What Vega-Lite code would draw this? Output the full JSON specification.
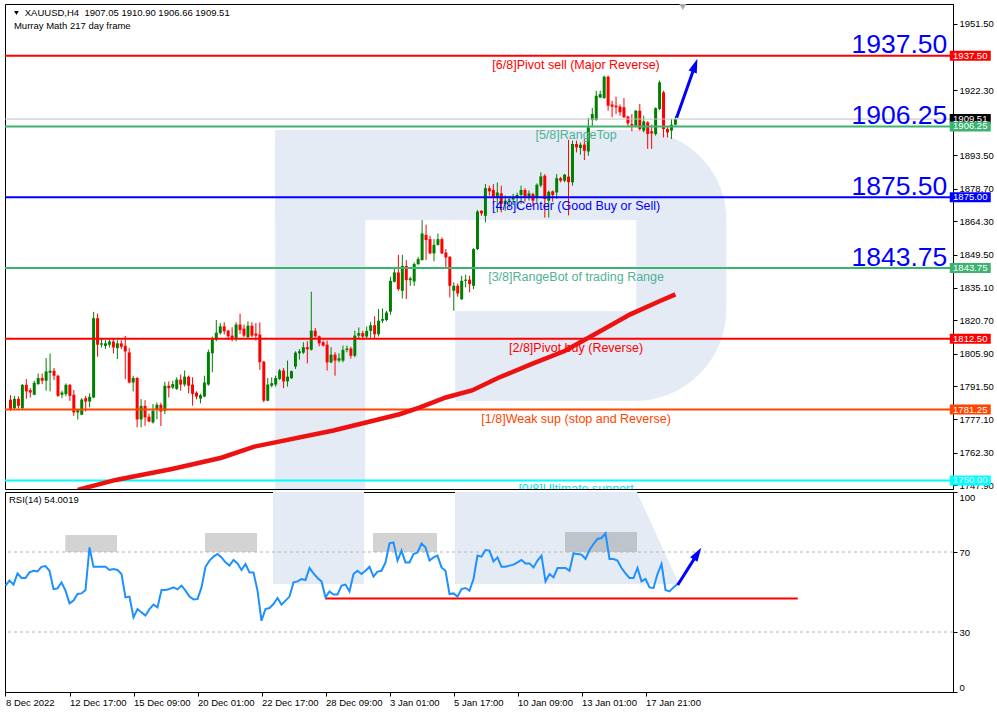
{
"$schema":"https://vega.github.io/schema/vega-lite/v6.json",
"background":"white",
"padding":{"left":3,"top":3,"right":0,"bottom":0},
"bounds":"flush",
"spacing":3,
"config":{"view":{"stroke":"#000000","strokeWidth":1,"fill":"#ffffff"},"axis":{"labelFont":"Liberation Sans","labelFontSize":9.5,"labelColor":"#000000","tickColor":"#000000","domainColor":"#000000","tickSize":4,"grid":false,"labelOverlap":false},"text":{"font":"Liberation Sans"}},
"datasets":{
"bars":[
{"i":0,"o":1785.6,"h":1787.6,"l":1780.7,"c":1781.5,"r":53.2},
{"i":1,"o":1781.9,"h":1787.3,"l":1781.5,"c":1786.0,"r":55.7},
{"i":2,"o":1786.0,"h":1787.1,"l":1781.9,"c":1782.9,"r":53.7},
{"i":3,"o":1781.9,"h":1792.5,"l":1781.3,"c":1792.2,"r":59.3},
{"i":4,"o":1792.2,"h":1794.7,"l":1786.0,"c":1789.3,"r":57.0},
{"i":5,"o":1789.8,"h":1790.7,"l":1786.6,"c":1788.8,"r":57.0},
{"i":6,"o":1787.8,"h":1794.0,"l":1787.6,"c":1793.1,"r":59.8},
{"i":7,"o":1792.5,"h":1797.2,"l":1792.2,"c":1795.2,"r":60.6},
{"i":8,"o":1795.2,"h":1797.2,"l":1792.5,"c":1794.0,"r":60.3},
{"i":9,"o":1794.0,"h":1804.0,"l":1789.6,"c":1798.1,"r":62.6},
{"i":10,"o":1797.5,"h":1806.0,"l":1789.3,"c":1798.4,"r":63.0},
{"i":11,"o":1798.4,"h":1799.6,"l":1794.3,"c":1796.2,"r":60.6},
{"i":12,"o":1796.2,"h":1796.6,"l":1786.9,"c":1787.3,"r":51.5},
{"i":13,"o":1787.8,"h":1789.6,"l":1786.3,"c":1788.8,"r":51.8},
{"i":14,"o":1788.1,"h":1792.8,"l":1787.1,"c":1792.2,"r":54.8},
{"i":15,"o":1792.2,"h":1792.5,"l":1785.1,"c":1787.3,"r":50.7},
{"i":16,"o":1787.8,"h":1789.9,"l":1778.5,"c":1780.0,"r":44.3},
{"i":17,"o":1780.0,"h":1781.5,"l":1776.9,"c":1781.0,"r":45.7},
{"i":18,"o":1779.0,"h":1786.3,"l":1778.8,"c":1785.7,"r":49.0},
{"i":19,"o":1786.3,"h":1787.3,"l":1780.4,"c":1784.8,"r":49.3},
{"i":20,"o":1784.8,"h":1788.4,"l":1782.2,"c":1786.9,"r":51.0},
{"i":21,"o":1786.6,"h":1824.4,"l":1786.3,"c":1821.6,"r":72.3},
{"i":22,"o":1821.6,"h":1823.7,"l":1804.6,"c":1809.9,"r":62.6},
{"i":23,"o":1809.9,"h":1812.8,"l":1808.7,"c":1810.5,"r":62.6},
{"i":24,"o":1809.4,"h":1811.9,"l":1808.0,"c":1810.5,"r":62.6},
{"i":25,"o":1809.9,"h":1812.8,"l":1808.7,"c":1811.3,"r":62.6},
{"i":26,"o":1811.3,"h":1812.8,"l":1806.0,"c":1808.7,"r":61.0},
{"i":27,"o":1808.4,"h":1811.9,"l":1803.5,"c":1810.5,"r":61.5},
{"i":28,"o":1810.5,"h":1811.9,"l":1808.0,"c":1809.0,"r":61.0},
{"i":29,"o":1809.4,"h":1813.8,"l":1794.7,"c":1806.9,"r":59.0},
{"i":30,"o":1806.5,"h":1808.4,"l":1792.8,"c":1793.2,"r":47.3},
{"i":31,"o":1793.2,"h":1796.2,"l":1789.3,"c":1795.2,"r":47.7},
{"i":32,"o":1795.2,"h":1795.6,"l":1773.4,"c":1776.9,"r":37.3},
{"i":33,"o":1776.9,"h":1785.9,"l":1773.4,"c":1782.9,"r":41.5},
{"i":34,"o":1782.9,"h":1785.4,"l":1774.1,"c":1777.8,"r":39.8},
{"i":35,"o":1778.1,"h":1779.5,"l":1775.6,"c":1776.0,"r":38.2},
{"i":36,"o":1775.6,"h":1783.7,"l":1775.1,"c":1780.7,"r":41.5},
{"i":37,"o":1781.5,"h":1784.4,"l":1777.0,"c":1783.4,"r":43.7},
{"i":38,"o":1783.4,"h":1784.3,"l":1774.0,"c":1780.4,"r":42.3},
{"i":39,"o":1780.7,"h":1793.5,"l":1779.3,"c":1791.8,"r":51.0},
{"i":40,"o":1791.8,"h":1793.7,"l":1786.6,"c":1790.7,"r":51.0},
{"i":41,"o":1791.0,"h":1794.0,"l":1790.3,"c":1792.5,"r":51.5},
{"i":42,"o":1790.4,"h":1795.5,"l":1789.9,"c":1794.5,"r":52.3},
{"i":43,"o":1794.5,"h":1796.7,"l":1789.6,"c":1792.3,"r":51.3},
{"i":44,"o":1792.3,"h":1798.5,"l":1791.4,"c":1795.8,"r":53.2},
{"i":45,"o":1795.8,"h":1796.2,"l":1788.4,"c":1791.8,"r":50.7},
{"i":46,"o":1792.3,"h":1795.5,"l":1783.0,"c":1788.2,"r":47.7},
{"i":47,"o":1788.7,"h":1789.3,"l":1785.8,"c":1787.0,"r":46.3},
{"i":48,"o":1786.1,"h":1788.2,"l":1784.0,"c":1787.6,"r":46.5},
{"i":49,"o":1787.0,"h":1796.2,"l":1786.7,"c":1793.2,"r":52.3},
{"i":50,"o":1792.3,"h":1807.7,"l":1791.8,"c":1806.6,"r":62.6},
{"i":51,"o":1806.1,"h":1813.5,"l":1797.7,"c":1812.4,"r":65.7},
{"i":52,"o":1812.0,"h":1820.8,"l":1811.4,"c":1815.2,"r":67.7},
{"i":53,"o":1815.0,"h":1819.4,"l":1814.4,"c":1818.0,"r":69.0},
{"i":54,"o":1818.0,"h":1819.8,"l":1814.4,"c":1815.8,"r":67.3},
{"i":55,"o":1816.1,"h":1816.4,"l":1812.0,"c":1813.6,"r":64.8},
{"i":56,"o":1813.9,"h":1817.6,"l":1811.4,"c":1812.9,"r":63.2},
{"i":57,"o":1812.9,"h":1819.8,"l":1811.4,"c":1818.8,"r":66.0},
{"i":58,"o":1818.8,"h":1823.6,"l":1814.6,"c":1816.4,"r":64.3},
{"i":59,"o":1817.0,"h":1818.8,"l":1813.2,"c":1813.9,"r":61.0},
{"i":60,"o":1813.2,"h":1820.2,"l":1812.9,"c":1818.3,"r":64.0},
{"i":61,"o":1818.3,"h":1819.8,"l":1813.2,"c":1813.9,"r":59.8},
{"i":62,"o":1814.8,"h":1819.4,"l":1811.7,"c":1813.9,"r":59.8},
{"i":63,"o":1814.4,"h":1819.7,"l":1798.8,"c":1802.1,"r":50.7},
{"i":64,"o":1802.4,"h":1802.8,"l":1784.5,"c":1785.2,"r":35.6},
{"i":65,"o":1785.2,"h":1795.2,"l":1784.9,"c":1792.3,"r":41.5},
{"i":66,"o":1791.8,"h":1795.5,"l":1791.1,"c":1792.9,"r":42.0},
{"i":67,"o":1792.3,"h":1796.2,"l":1791.4,"c":1795.2,"r":44.0},
{"i":68,"o":1794.8,"h":1799.2,"l":1794.3,"c":1798.5,"r":47.0},
{"i":69,"o":1798.5,"h":1799.6,"l":1790.7,"c":1793.7,"r":43.7},
{"i":70,"o":1793.7,"h":1802.9,"l":1791.4,"c":1795.8,"r":45.7},
{"i":71,"o":1795.1,"h":1798.5,"l":1794.8,"c":1798.2,"r":47.7},
{"i":72,"o":1800.2,"h":1807.0,"l":1799.2,"c":1806.4,"r":54.8},
{"i":73,"o":1806.1,"h":1808.0,"l":1803.3,"c":1807.0,"r":55.3},
{"i":74,"o":1806.4,"h":1811.0,"l":1805.8,"c":1808.8,"r":56.5},
{"i":75,"o":1808.8,"h":1811.4,"l":1801.7,"c":1807.9,"r":56.0},
{"i":76,"o":1807.7,"h":1833.3,"l":1807.3,"c":1816.1,"r":62.0},
{"i":77,"o":1816.1,"h":1817.3,"l":1812.9,"c":1813.6,"r":59.3},
{"i":78,"o":1813.6,"h":1813.9,"l":1809.2,"c":1810.5,"r":57.0},
{"i":79,"o":1811.0,"h":1811.7,"l":1809.1,"c":1809.5,"r":55.3},
{"i":80,"o":1809.9,"h":1811.7,"l":1798.5,"c":1802.1,"r":47.3},
{"i":81,"o":1802.1,"h":1808.8,"l":1801.7,"c":1805.5,"r":50.3},
{"i":82,"o":1805.5,"h":1806.6,"l":1796.2,"c":1802.9,"r":48.7},
{"i":83,"o":1802.9,"h":1806.1,"l":1802.1,"c":1803.9,"r":48.7},
{"i":84,"o":1802.9,"h":1809.5,"l":1802.1,"c":1807.6,"r":53.2},
{"i":85,"o":1807.6,"h":1809.5,"l":1806.5,"c":1808.2,"r":53.7},
{"i":86,"o":1808.2,"h":1809.0,"l":1803.8,"c":1805.0,"r":50.3},
{"i":87,"o":1805.0,"h":1816.1,"l":1804.3,"c":1813.9,"r":59.0},
{"i":88,"o":1813.9,"h":1817.5,"l":1812.5,"c":1815.0,"r":60.6},
{"i":89,"o":1815.0,"h":1816.0,"l":1812.0,"c":1813.5,"r":59.0},
{"i":90,"o":1813.5,"h":1818.0,"l":1812.8,"c":1816.0,"r":60.6},
{"i":91,"o":1816.0,"h":1820.0,"l":1813.0,"c":1818.5,"r":62.6},
{"i":92,"o":1818.5,"h":1822.4,"l":1812.5,"c":1814.5,"r":57.7},
{"i":93,"o":1814.5,"h":1825.6,"l":1813.5,"c":1820.5,"r":60.2},
{"i":94,"o":1820.5,"h":1825.9,"l":1819.5,"c":1821.2,"r":60.6},
{"i":95,"o":1820.8,"h":1824.8,"l":1820.2,"c":1824.1,"r":64.8},
{"i":96,"o":1824.5,"h":1839.9,"l":1823.1,"c":1838.1,"r":74.3},
{"i":97,"o":1837.7,"h":1844.0,"l":1837.4,"c":1841.8,"r":74.8},
{"i":98,"o":1841.8,"h":1849.6,"l":1833.7,"c":1834.4,"r":65.7},
{"i":99,"o":1833.7,"h":1849.6,"l":1830.3,"c":1844.7,"r":70.7},
{"i":100,"o":1844.7,"h":1847.3,"l":1830.0,"c":1838.4,"r":64.8},
{"i":101,"o":1838.4,"h":1839.9,"l":1835.9,"c":1839.2,"r":64.8},
{"i":102,"o":1837.8,"h":1846.2,"l":1835.9,"c":1845.5,"r":69.0},
{"i":103,"o":1845.5,"h":1848.7,"l":1845.0,"c":1847.7,"r":69.8},
{"i":104,"o":1847.3,"h":1864.9,"l":1847.0,"c":1859.0,"r":74.3},
{"i":105,"o":1858.4,"h":1862.9,"l":1847.3,"c":1856.1,"r":72.3},
{"i":106,"o":1856.5,"h":1858.0,"l":1849.9,"c":1850.2,"r":65.7},
{"i":107,"o":1850.2,"h":1856.5,"l":1846.7,"c":1854.0,"r":67.3},
{"i":108,"o":1854.0,"h":1859.0,"l":1853.6,"c":1856.5,"r":68.2},
{"i":109,"o":1856.5,"h":1857.3,"l":1849.9,"c":1850.2,"r":62.3},
{"i":110,"o":1850.6,"h":1852.1,"l":1844.0,"c":1848.4,"r":60.6},
{"i":111,"o":1848.7,"h":1849.0,"l":1830.8,"c":1835.9,"r":49.0},
{"i":112,"o":1833.7,"h":1837.4,"l":1824.9,"c":1835.9,"r":49.3},
{"i":113,"o":1835.9,"h":1836.9,"l":1831.1,"c":1832.5,"r":47.7},
{"i":114,"o":1830.0,"h":1840.3,"l":1829.6,"c":1838.1,"r":51.5},
{"i":115,"o":1838.1,"h":1840.8,"l":1835.2,"c":1838.6,"r":52.0},
{"i":116,"o":1838.6,"h":1840.3,"l":1833.0,"c":1836.7,"r":50.7},
{"i":117,"o":1835.9,"h":1852.5,"l":1834.4,"c":1852.1,"r":56.5},
{"i":118,"o":1852.1,"h":1869.3,"l":1851.7,"c":1868.7,"r":68.2},
{"i":119,"o":1869.0,"h":1869.3,"l":1866.8,"c":1867.9,"r":67.7},
{"i":120,"o":1866.8,"h":1880.8,"l":1863.9,"c":1879.0,"r":71.0},
{"i":121,"o":1879.0,"h":1880.1,"l":1875.7,"c":1877.6,"r":70.7},
{"i":122,"o":1878.2,"h":1880.8,"l":1872.0,"c":1875.2,"r":65.3},
{"i":123,"o":1874.9,"h":1881.5,"l":1868.3,"c":1877.1,"r":67.3},
{"i":124,"o":1876.7,"h":1880.1,"l":1868.3,"c":1872.0,"r":62.6},
{"i":125,"o":1872.0,"h":1875.8,"l":1869.0,"c":1873.5,"r":62.6},
{"i":126,"o":1873.5,"h":1875.5,"l":1870.5,"c":1874.0,"r":63.2},
{"i":127,"o":1874.0,"h":1876.5,"l":1871.5,"c":1874.8,"r":63.7},
{"i":128,"o":1874.8,"h":1877.0,"l":1870.0,"c":1876.0,"r":64.8},
{"i":129,"o":1876.0,"h":1880.1,"l":1872.0,"c":1878.2,"r":66.0},
{"i":130,"o":1878.2,"h":1879.0,"l":1873.0,"c":1874.9,"r":64.3},
{"i":131,"o":1874.9,"h":1878.0,"l":1873.5,"c":1876.7,"r":64.3},
{"i":132,"o":1876.4,"h":1877.0,"l":1871.0,"c":1873.5,"r":62.3},
{"i":133,"o":1874.9,"h":1881.1,"l":1872.5,"c":1880.5,"r":65.7},
{"i":134,"o":1880.2,"h":1886.0,"l":1879.4,"c":1884.2,"r":68.2},
{"i":135,"o":1884.5,"h":1885.2,"l":1866.0,"c":1874.2,"r":55.3},
{"i":136,"o":1873.5,"h":1878.0,"l":1866.0,"c":1877.4,"r":59.0},
{"i":137,"o":1877.6,"h":1878.0,"l":1873.0,"c":1875.9,"r":57.3},
{"i":138,"o":1877.1,"h":1885.2,"l":1874.2,"c":1883.4,"r":62.0},
{"i":139,"o":1883.4,"h":1884.0,"l":1881.6,"c":1882.3,"r":62.0},
{"i":140,"o":1882.3,"h":1885.2,"l":1881.6,"c":1885.0,"r":62.0},
{"i":141,"o":1884.1,"h":1900.3,"l":1867.0,"c":1881.6,"r":60.6},
{"i":142,"o":1881.6,"h":1900.0,"l":1880.1,"c":1898.5,"r":69.3},
{"i":143,"o":1898.5,"h":1900.0,"l":1894.8,"c":1897.0,"r":69.0},
{"i":144,"o":1896.7,"h":1899.2,"l":1893.8,"c":1898.2,"r":68.7},
{"i":145,"o":1898.2,"h":1900.7,"l":1891.4,"c":1895.5,"r":66.5},
{"i":146,"o":1895.2,"h":1910.0,"l":1893.3,"c":1905.9,"r":71.0},
{"i":147,"o":1909.1,"h":1914.4,"l":1905.9,"c":1911.7,"r":74.0},
{"i":148,"o":1909.1,"h":1922.0,"l":1908.8,"c":1919.8,"r":76.5},
{"i":149,"o":1919.0,"h":1922.0,"l":1918.8,"c":1920.5,"r":77.0},
{"i":150,"o":1918.8,"h":1928.7,"l":1918.4,"c":1928.2,"r":79.3},
{"i":151,"o":1928.2,"h":1928.7,"l":1913.2,"c":1915.4,"r":66.5},
{"i":152,"o":1915.9,"h":1917.6,"l":1910.3,"c":1915.0,"r":66.5},
{"i":153,"o":1915.4,"h":1919.4,"l":1911.7,"c":1914.7,"r":65.7},
{"i":154,"o":1915.0,"h":1915.9,"l":1911.0,"c":1912.5,"r":62.0},
{"i":155,"o":1914.7,"h":1918.8,"l":1910.0,"c":1910.3,"r":59.3},
{"i":156,"o":1910.6,"h":1911.0,"l":1905.9,"c":1907.6,"r":57.0},
{"i":157,"o":1907.3,"h":1911.7,"l":1904.1,"c":1906.6,"r":57.0},
{"i":158,"o":1906.6,"h":1913.5,"l":1905.9,"c":1913.2,"r":62.0},
{"i":159,"o":1913.2,"h":1916.2,"l":1904.4,"c":1905.1,"r":55.3},
{"i":160,"o":1904.4,"h":1911.0,"l":1903.6,"c":1908.5,"r":56.5},
{"i":161,"o":1908.1,"h":1908.5,"l":1896.3,"c":1902.9,"r":52.3},
{"i":162,"o":1904.1,"h":1907.0,"l":1896.3,"c":1903.2,"r":52.0},
{"i":163,"o":1902.9,"h":1914.7,"l":1902.2,"c":1914.3,"r":59.0},
{"i":164,"o":1914.0,"h":1926.5,"l":1913.5,"c":1925.7,"r":64.0},
{"i":165,"o":1921.3,"h":1922.0,"l":1901.4,"c":1905.1,"r":51.0},
{"i":166,"o":1905.1,"h":1905.9,"l":1901.4,"c":1903.6,"r":50.3},
{"i":167,"o":1904.4,"h":1909.5,"l":1900.7,"c":1907.0,"r":52.3},
{"i":168,"o":1907.05,"h":1910.9,"l":1906.66,"c":1909.51,"r":54.0}
],
"ma":[
{"i":17,"v":1745.8},{"i":19.1,"v":1746.8},{"i":26.6,"v":1750.2},{"i":40.8,"v":1755.0},{"i":53.3,"v":1760.0},{"i":61.6,"v":1764.9},{"i":81.6,"v":1772.0},{"i":98.3,"v":1779.2},{"i":103.3,"v":1782.1},{"i":110.0,"v":1786.6},{"i":116.6,"v":1789.7},{"i":123.3,"v":1795.3},{"i":131.6,"v":1801.3},{"i":140.0,"v":1807.1},{"i":148.3,"v":1815.2},{"i":156.6,"v":1823.3},{"i":164.1,"v":1829.2},{"i":168.0,"v":1832.1}
],
"levels":[
{"k":"6/8","p":1937.5,"t":"[6/8]Pivot sell (Major Reverse)"},
{"k":"5/8","p":1906.25,"t":"[5/8]RangeTop"},
{"k":"4/8","p":1875.0,"t":"[4/8]Center (Good Buy or Sell)"},
{"k":"3/8","p":1843.75,"t":"[3/8]RangeBot of trading Range"},
{"k":"2/8","p":1812.5,"t":"[2/8]Pivot buy (Reverse)"},
{"k":"1/8","p":1781.25,"t":"[1/8]Weak sup (stop and Reverse)"},
{"k":"0/8","p":1750.0,"t":"[0/8]Ultimate support"}
],
"tags":[
{"k":"cur","p":1909.51,"tag":"1909.51"},
{"k":"6/8","p":1937.5,"tag":"1937.50"},
{"k":"5/8","p":1906.25,"tag":"1906.25"},
{"k":"4/8","p":1875.0,"tag":"1875.00"},
{"k":"3/8","p":1843.75,"tag":"1843.75"},
{"k":"2/8","p":1812.5,"tag":"1812.50"},
{"k":"1/8","p":1781.25,"tag":"1781.25"},
{"k":"0/8","p":1750.0,"tag":"1750.00"}
],
"cur":[{"p":1909.51}],
"big":[{"p":1937.5,"t":"1937.50"},{"p":1906.25,"t":"1906.25"},{"p":1875.0,"t":"1875.50"},{"p":1843.75,"t":"1843.75"}],
"wm":[{"x1":66.875,"x2":89.625,"y1":1904.68,"y2":1740},{"x1":66.875,"x2":158.125,"y1":1904.68,"y2":1864.95}],
"wmBowl":[{"x1":112.375,"x2":180.875,"y1":1904.68,"y2":1785.05}],
"wmHole":[{"x1":112.375,"x2":158.125,"y1":1864.95,"y2":1824.78}],
"arrowMain":[{"x1":168.3,"y1":1910.1,"x2":172.96,"y2":1933.2}],
"hdr":[{"x":3.6,"y":1956.46,"t":"XAUUSD,H4\u00a0 1907.05 1910.90 1906.66 1909.51"},{"x":0.875,"y":1950.6,"t":"Murray Math 217 day frame"}],
"hdrTri":[{"x":1.5,"y":1956.3}],
"topMark":[{"x":169.875,"y":1959.0}],
"wmR":[{"x1":66.875,"x2":89.625,"y1":100,"y2":54}],
"wmLeg":[{"x":112.375,"y":100,"b":54},{"x":157.875,"y":100,"b":54},{"x":168.375,"y":54,"b":54}],
"boxes":[{"x1":14.95,"x2":27.875,"y1":78.5,"y2":70},{"x1":49.875,"x2":62.875,"y1":79.5,"y2":70},{"x1":91.875,"x2":107.875,"y1":79.5,"y2":70},{"x1":139.875,"x2":157.875,"y1":80,"y2":70}],
"dash":[{"v":70},{"v":30}],
"rsiLine":[{"x1":79.95,"x2":198.05,"v":46.8}],
"arrowRsi":[{"x1":168.05,"y1":53.5,"x2":173.0,"y2":69.2}],
"rsiLbl":[{"x":0.875,"y":95.9,"t":"RSI(14) 54.0019"}]
},
"vconcat":[
{
"width":948,"height":485,
"layer":[
{"data":{"name":"wm"},"mark":{"type":"rect","color":"#e5ebf4","clip":true},
 "encoding":{"x":{"field":"x1","type":"quantitative","scale":{"domain":[-0.125,236.875],"nice":false,"zero":false},"axis":null},"x2":{"field":"x2"},
 "y":{"field":"y1","type":"quantitative","scale":{"domain":[1746.2,1960.3],"nice":false,"zero":false},"axis":{"orient":"right","values":[1951.5,1922.3,1893.5,1878.7,1864.3,1849.5,1835.1,1820.7,1805.9,1791.5,1777.1,1762.3,1747.9],"format":".2f","title":null,"labelPadding":2}},"y2":{"field":"y2"}}},
{"data":{"name":"wmBowl"},"mark":{"type":"rect","color":"#e5ebf4","clip":true,"cornerRadiusTopRight":90,"cornerRadiusBottomRight":92},
 "encoding":{"x":{"field":"x1","type":"quantitative","scale":{"domain":[-0.125,236.875],"nice":false,"zero":false},"axis":null},"x2":{"field":"x2"},
 "y":{"field":"y1","type":"quantitative","scale":{"domain":[1746.2,1960.3],"nice":false,"zero":false},"axis":{"orient":"right","values":[1951.5,1922.3,1893.5,1878.7,1864.3,1849.5,1835.1,1820.7,1805.9,1791.5,1777.1,1762.3,1747.9],"format":".2f","title":null,"labelPadding":2}},"y2":{"field":"y2"}}},
{"data":{"name":"wmHole"},"mark":{"type":"rect","color":"#ffffff","clip":true},
 "encoding":{"x":{"field":"x1","type":"quantitative","scale":{"domain":[-0.125,236.875],"nice":false,"zero":false},"axis":null},"x2":{"field":"x2"},
 "y":{"field":"y1","type":"quantitative","scale":{"domain":[1746.2,1960.3],"nice":false,"zero":false},"axis":{"orient":"right","values":[1951.5,1922.3,1893.5,1878.7,1864.3,1849.5,1835.1,1820.7,1805.9,1791.5,1777.1,1762.3,1747.9],"format":".2f","title":null,"labelPadding":2}},"y2":{"field":"y2"}}},
{"data":{"name":"bars"},"mark":{"type":"rule","strokeWidth":1,"clip":true},
 "encoding":{"x":{"field":"i","type":"quantitative","scale":{"domain":[-0.125,236.875],"nice":false,"zero":false},"axis":null},
 "y":{"field":"l","type":"quantitative","scale":{"domain":[1746.2,1960.3],"nice":false,"zero":false},"axis":{"orient":"right","values":[1951.5,1922.3,1893.5,1878.7,1864.3,1849.5,1835.1,1820.7,1805.9,1791.5,1777.1,1762.3,1747.9],"format":".2f","title":null,"labelPadding":2}},"y2":{"field":"h"},
 "color":{"condition":{"test":"datum.c >= datum.o","value":"#008000"},"value":"#ff0000"}}},
{"data":{"name":"bars"},"mark":{"type":"bar","size":3,"orient":"vertical","clip":true},
 "encoding":{"x":{"field":"i","type":"quantitative","scale":{"domain":[-0.125,236.875],"nice":false,"zero":false},"axis":null},
 "y":{"field":"o","type":"quantitative","scale":{"domain":[1746.2,1960.3],"nice":false,"zero":false},"axis":{"orient":"right","values":[1951.5,1922.3,1893.5,1878.7,1864.3,1849.5,1835.1,1820.7,1805.9,1791.5,1777.1,1762.3,1747.9],"format":".2f","title":null,"labelPadding":2}},"y2":{"field":"c"},
 "color":{"condition":{"test":"datum.c >= datum.o","value":"#008000"},"value":"#ff0000"}}},
{"data":{"name":"cur"},"mark":{"type":"rule","strokeWidth":1,"color":"#c0c0c0"},
 "encoding":{"y":{"field":"p","type":"quantitative","scale":{"domain":[1746.2,1960.3],"nice":false,"zero":false},"axis":{"orient":"right","values":[1951.5,1922.3,1893.5,1878.7,1864.3,1849.5,1835.1,1820.7,1805.9,1791.5,1777.1,1762.3,1747.9],"format":".2f","title":null,"labelPadding":2}}}},
{"data":{"name":"levels"},"mark":{"type":"rule","strokeWidth":2},
 "encoding":{"y":{"field":"p","type":"quantitative","scale":{"domain":[1746.2,1960.3],"nice":false,"zero":false},"axis":{"orient":"right","values":[1951.5,1922.3,1893.5,1878.7,1864.3,1849.5,1835.1,1820.7,1805.9,1791.5,1777.1,1762.3,1747.9],"format":".2f","title":null,"labelPadding":2}},
 "stroke":{"field":"k","type":"nominal","scale":{"domain":["6/8","5/8","4/8","3/8","2/8","1/8","0/8"],"range":["#ff0000","#3cb371","#0000ff","#3cb371","#ff0000","#ff4500","#00ffff"]},"legend":null}}},
{"data":{"name":"ma"},"mark":{"type":"line","strokeWidth":4.5,"color":"#ee1111","clip":true},
 "encoding":{"x":{"field":"i","type":"quantitative","scale":{"domain":[-0.125,236.875],"nice":false,"zero":false},"axis":null},
 "y":{"field":"v","type":"quantitative","scale":{"domain":[1746.2,1960.3],"nice":false,"zero":false},"axis":{"orient":"right","values":[1951.5,1922.3,1893.5,1878.7,1864.3,1849.5,1835.1,1820.7,1805.9,1791.5,1777.1,1762.3,1747.9],"format":".2f","title":null,"labelPadding":2}}}},
{"data":{"name":"levels"},"mark":{"type":"text","fontSize":12.5,"align":"center","baseline":"middle","dy":9,"clip":true},
 "encoding":{"x":{"datum":142.9,"type":"quantitative","scale":{"domain":[-0.125,236.875],"nice":false,"zero":false},"axis":null},
 "y":{"field":"p","type":"quantitative","scale":{"domain":[1746.2,1960.3],"nice":false,"zero":false},"axis":{"orient":"right","values":[1951.5,1922.3,1893.5,1878.7,1864.3,1849.5,1835.1,1820.7,1805.9,1791.5,1777.1,1762.3,1747.9],"format":".2f","title":null,"labelPadding":2}},
 "text":{"field":"t"},
 "fill":{"field":"k","type":"nominal","scale":{"domain":["6/8","5/8","4/8","3/8","2/8","1/8","0/8"],"range":["#ff0000","#4fb394","#0000ff","#4fb394","#ff0000","#ff4500","#00e5e5"]},"legend":null}}},
{"data":{"name":"big"},"mark":{"type":"text","fontSize":26.5,"align":"right","baseline":"alphabetic","dy":-2.5,"color":"#0000ff"},
 "encoding":{"x":{"datum":236.7,"type":"quantitative","scale":{"domain":[-0.125,236.875],"nice":false,"zero":false},"axis":null},
 "y":{"field":"p","type":"quantitative","scale":{"domain":[1746.2,1960.3],"nice":false,"zero":false},"axis":{"orient":"right","values":[1951.5,1922.3,1893.5,1878.7,1864.3,1849.5,1835.1,1820.7,1805.9,1791.5,1777.1,1762.3,1747.9],"format":".2f","title":null,"labelPadding":2}},
 "text":{"field":"t"}}},
{"data":{"name":"arrowMain"},"mark":{"type":"rule","strokeWidth":3,"color":"#0000ff"},
 "encoding":{"x":{"field":"x1","type":"quantitative","scale":{"domain":[-0.125,236.875],"nice":false,"zero":false},"axis":null},"x2":{"field":"x2"},
 "y":{"field":"y1","type":"quantitative","scale":{"domain":[1746.2,1960.3],"nice":false,"zero":false},"axis":{"orient":"right","values":[1951.5,1922.3,1893.5,1878.7,1864.3,1849.5,1835.1,1820.7,1805.9,1791.5,1777.1,1762.3,1747.9],"format":".2f","title":null,"labelPadding":2}},"y2":{"field":"y2"}}},
{"data":{"name":"arrowMain"},"mark":{"type":"point","filled":true,"opacity":1,"color":"#0000ff","shape":"M0,-1L0.62,1L-0.62,1Z","size":196,"angle":19.6,"strokeWidth":0},
 "encoding":{"x":{"field":"x2","type":"quantitative","scale":{"domain":[-0.125,236.875],"nice":false,"zero":false},"axis":null},
 "y":{"field":"y2","type":"quantitative","scale":{"domain":[1746.2,1960.3],"nice":false,"zero":false},"axis":{"orient":"right","values":[1951.5,1922.3,1893.5,1878.7,1864.3,1849.5,1835.1,1820.7,1805.9,1791.5,1777.1,1762.3,1747.9],"format":".2f","title":null,"labelPadding":2}}}},
{"data":{"name":"hdr"},"mark":{"type":"text","fontSize":9.5,"align":"left","baseline":"middle","color":"#000000"},
 "encoding":{"x":{"field":"x","type":"quantitative","scale":{"domain":[-0.125,236.875],"nice":false,"zero":false},"axis":null},
 "y":{"field":"y","type":"quantitative","scale":{"domain":[1746.2,1960.3],"nice":false,"zero":false},"axis":{"orient":"right","values":[1951.5,1922.3,1893.5,1878.7,1864.3,1849.5,1835.1,1820.7,1805.9,1791.5,1777.1,1762.3,1747.9],"format":".2f","title":null,"labelPadding":2}},
 "text":{"field":"t"}}},
{"data":{"name":"hdrTri"},"mark":{"type":"point","filled":true,"opacity":1,"color":"#000000","shape":"triangle-down","size":22},
 "encoding":{"x":{"field":"x","type":"quantitative","scale":{"domain":[-0.125,236.875],"nice":false,"zero":false},"axis":null},
 "y":{"field":"y","type":"quantitative","scale":{"domain":[1746.2,1960.3],"nice":false,"zero":false},"axis":{"orient":"right","values":[1951.5,1922.3,1893.5,1878.7,1864.3,1849.5,1835.1,1820.7,1805.9,1791.5,1777.1,1762.3,1747.9],"format":".2f","title":null,"labelPadding":2}}}},
{"data":{"name":"topMark"},"mark":{"type":"point","filled":true,"opacity":1,"color":"#a8a8a8","shape":"triangle-down","size":50},
 "encoding":{"x":{"field":"x","type":"quantitative","scale":{"domain":[-0.125,236.875],"nice":false,"zero":false},"axis":null},
 "y":{"field":"y","type":"quantitative","scale":{"domain":[1746.2,1960.3],"nice":false,"zero":false},"axis":{"orient":"right","values":[1951.5,1922.3,1893.5,1878.7,1864.3,1849.5,1835.1,1820.7,1805.9,1791.5,1777.1,1762.3,1747.9],"format":".2f","title":null,"labelPadding":2}}}},
{"data":{"name":"tags"},"mark":{"type":"point","filled":true,"opacity":1,"shape":"M-2.05,-0.5H2.05V0.5H-2.05Z","size":400,"strokeWidth":0},
 "encoding":{"x":{"datum":242.5,"type":"quantitative","scale":{"domain":[-0.125,236.875],"nice":false,"zero":false},"axis":null},
 "y":{"field":"p","type":"quantitative","scale":{"domain":[1746.2,1960.3],"nice":false,"zero":false},"axis":{"orient":"right","values":[1951.5,1922.3,1893.5,1878.7,1864.3,1849.5,1835.1,1820.7,1805.9,1791.5,1777.1,1762.3,1747.9],"format":".2f","title":null,"labelPadding":2}},
 "color":{"field":"k","type":"nominal","scale":{"domain":["cur","6/8","5/8","4/8","3/8","2/8","1/8","0/8"],"range":["#000000","#ff0000","#3cb371","#0000ff","#3cb371","#ff0000","#ff4500","#00ffff"]},"legend":null}}},
{"data":{"name":"tags"},"mark":{"type":"text","fontSize":9.5,"align":"center","baseline":"middle","color":"#ffffff"},
 "encoding":{"x":{"datum":242.5,"type":"quantitative","scale":{"domain":[-0.125,236.875],"nice":false,"zero":false},"axis":null},
 "y":{"field":"p","type":"quantitative","scale":{"domain":[1746.2,1960.3],"nice":false,"zero":false},"axis":{"orient":"right","values":[1951.5,1922.3,1893.5,1878.7,1864.3,1849.5,1835.1,1820.7,1805.9,1791.5,1777.1,1762.3,1747.9],"format":".2f","title":null,"labelPadding":2}},
 "text":{"field":"tag"}}}
]
},
{
"width":948,"height":200,
"layer":[
{"data":{"name":"wmR"},"mark":{"type":"rect","color":"#e5ebf4","clip":true},
 "encoding":{"x":{"field":"x1","type":"quantitative","scale":{"domain":[-0.125,236.875],"nice":false,"zero":false},"axis":{"orient":"bottom","values":[0,16,32,48,64,80,96,112,128,144,160],"labelExpr":"['8 Dec 2022','12 Dec 17:00','15 Dec 09:00','20 Dec 01:00','22 Dec 17:00','28 Dec 09:00','3 Jan 01:00','5 Jan 17:00','10 Jan 09:00','13 Jan 01:00','17 Jan 21:00'][round(datum.value/16)]","title":null,"labelAlign":"left","labelBaseline":"top","labelPadding":1,"labelFlush":false}},"x2":{"field":"x2"},
 "y":{"field":"y1","type":"quantitative","scale":{"domain":[0,100],"nice":false,"zero":false},"axis":{"orient":"right","values":[0,30,70,100],"title":null,"labelFlush":true,"labelPadding":2}},"y2":{"field":"y2"}}},
{"data":{"name":"wmLeg"},"mark":{"type":"area","color":"#e5ebf4","opacity":1,"clip":true},
 "encoding":{"x":{"field":"x","type":"quantitative","scale":{"domain":[-0.125,236.875],"nice":false,"zero":false},"axis":{"orient":"bottom","values":[0,16,32,48,64,80,96,112,128,144,160],"labelExpr":"['8 Dec 2022','12 Dec 17:00','15 Dec 09:00','20 Dec 01:00','22 Dec 17:00','28 Dec 09:00','3 Jan 01:00','5 Jan 17:00','10 Jan 09:00','13 Jan 01:00','17 Jan 21:00'][round(datum.value/16)]","title":null,"labelAlign":"left","labelBaseline":"top","labelPadding":1,"labelFlush":false}},
 "y":{"field":"y","type":"quantitative","scale":{"domain":[0,100],"nice":false,"zero":false},"axis":{"orient":"right","values":[0,30,70,100],"title":null,"labelFlush":true,"labelPadding":2}},"y2":{"field":"b"}}},
{"data":{"name":"boxes"},"mark":{"type":"rect","color":"#484848","opacity":0.24},
 "encoding":{"x":{"field":"x1","type":"quantitative","scale":{"domain":[-0.125,236.875],"nice":false,"zero":false},"axis":{"orient":"bottom","values":[0,16,32,48,64,80,96,112,128,144,160],"labelExpr":"['8 Dec 2022','12 Dec 17:00','15 Dec 09:00','20 Dec 01:00','22 Dec 17:00','28 Dec 09:00','3 Jan 01:00','5 Jan 17:00','10 Jan 09:00','13 Jan 01:00','17 Jan 21:00'][round(datum.value/16)]","title":null,"labelAlign":"left","labelBaseline":"top","labelPadding":1,"labelFlush":false}},"x2":{"field":"x2"},
 "y":{"field":"y1","type":"quantitative","scale":{"domain":[0,100],"nice":false,"zero":false},"axis":{"orient":"right","values":[0,30,70,100],"title":null,"labelFlush":true,"labelPadding":2}},"y2":{"field":"y2"}}},
{"data":{"name":"dash"},"mark":{"type":"rule","strokeWidth":1,"color":"#b4b4b4","strokeDash":[3,3]},
 "encoding":{"y":{"field":"v","type":"quantitative","scale":{"domain":[0,100],"nice":false,"zero":false},"axis":{"orient":"right","values":[0,30,70,100],"title":null,"labelFlush":true,"labelPadding":2}}}},
{"data":{"name":"rsiLine"},"mark":{"type":"rule","strokeWidth":2,"color":"#ff0000"},
 "encoding":{"x":{"field":"x1","type":"quantitative","scale":{"domain":[-0.125,236.875],"nice":false,"zero":false},"axis":{"orient":"bottom","values":[0,16,32,48,64,80,96,112,128,144,160],"labelExpr":"['8 Dec 2022','12 Dec 17:00','15 Dec 09:00','20 Dec 01:00','22 Dec 17:00','28 Dec 09:00','3 Jan 01:00','5 Jan 17:00','10 Jan 09:00','13 Jan 01:00','17 Jan 21:00'][round(datum.value/16)]","title":null,"labelAlign":"left","labelBaseline":"top","labelPadding":1,"labelFlush":false}},"x2":{"field":"x2"},
 "y":{"field":"v","type":"quantitative","scale":{"domain":[0,100],"nice":false,"zero":false},"axis":{"orient":"right","values":[0,30,70,100],"title":null,"labelFlush":true,"labelPadding":2}}}},
{"data":{"name":"bars"},"mark":{"type":"line","strokeWidth":2,"color":"#1e90ff","clip":true},
 "encoding":{"x":{"field":"i","type":"quantitative","scale":{"domain":[-0.125,236.875],"nice":false,"zero":false},"axis":{"orient":"bottom","values":[0,16,32,48,64,80,96,112,128,144,160],"labelExpr":"['8 Dec 2022','12 Dec 17:00','15 Dec 09:00','20 Dec 01:00','22 Dec 17:00','28 Dec 09:00','3 Jan 01:00','5 Jan 17:00','10 Jan 09:00','13 Jan 01:00','17 Jan 21:00'][round(datum.value/16)]","title":null,"labelAlign":"left","labelBaseline":"top","labelPadding":1,"labelFlush":false}},
 "y":{"field":"r","type":"quantitative","scale":{"domain":[0,100],"nice":false,"zero":false},"axis":{"orient":"right","values":[0,30,70,100],"title":null,"labelFlush":true,"labelPadding":2}}}},
{"data":{"name":"arrowRsi"},"mark":{"type":"rule","strokeWidth":3,"color":"#0000ff"},
 "encoding":{"x":{"field":"x1","type":"quantitative","scale":{"domain":[-0.125,236.875],"nice":false,"zero":false},"axis":{"orient":"bottom","values":[0,16,32,48,64,80,96,112,128,144,160],"labelExpr":"['8 Dec 2022','12 Dec 17:00','15 Dec 09:00','20 Dec 01:00','22 Dec 17:00','28 Dec 09:00','3 Jan 01:00','5 Jan 17:00','10 Jan 09:00','13 Jan 01:00','17 Jan 21:00'][round(datum.value/16)]","title":null,"labelAlign":"left","labelBaseline":"top","labelPadding":1,"labelFlush":false}},"x2":{"field":"x2"},
 "y":{"field":"y1","type":"quantitative","scale":{"domain":[0,100],"nice":false,"zero":false},"axis":{"orient":"right","values":[0,30,70,100],"title":null,"labelFlush":true,"labelPadding":2}},"y2":{"field":"y2"}}},
{"data":{"name":"arrowRsi"},"mark":{"type":"point","filled":true,"opacity":1,"color":"#0000ff","shape":"M0,-1L0.62,1L-0.62,1Z","size":196,"angle":32.2,"strokeWidth":0},
 "encoding":{"x":{"field":"x2","type":"quantitative","scale":{"domain":[-0.125,236.875],"nice":false,"zero":false},"axis":{"orient":"bottom","values":[0,16,32,48,64,80,96,112,128,144,160],"labelExpr":"['8 Dec 2022','12 Dec 17:00','15 Dec 09:00','20 Dec 01:00','22 Dec 17:00','28 Dec 09:00','3 Jan 01:00','5 Jan 17:00','10 Jan 09:00','13 Jan 01:00','17 Jan 21:00'][round(datum.value/16)]","title":null,"labelAlign":"left","labelBaseline":"top","labelPadding":1,"labelFlush":false}},
 "y":{"field":"y2","type":"quantitative","scale":{"domain":[0,100],"nice":false,"zero":false},"axis":{"orient":"right","values":[0,30,70,100],"title":null,"labelFlush":true,"labelPadding":2}}}},
{"data":{"name":"rsiLbl"},"mark":{"type":"text","fontSize":9.5,"align":"left","baseline":"middle","color":"#000000"},
 "encoding":{"x":{"field":"x","type":"quantitative","scale":{"domain":[-0.125,236.875],"nice":false,"zero":false},"axis":{"orient":"bottom","values":[0,16,32,48,64,80,96,112,128,144,160],"labelExpr":"['8 Dec 2022','12 Dec 17:00','15 Dec 09:00','20 Dec 01:00','22 Dec 17:00','28 Dec 09:00','3 Jan 01:00','5 Jan 17:00','10 Jan 09:00','13 Jan 01:00','17 Jan 21:00'][round(datum.value/16)]","title":null,"labelAlign":"left","labelBaseline":"top","labelPadding":1,"labelFlush":false}},
 "y":{"field":"y","type":"quantitative","scale":{"domain":[0,100],"nice":false,"zero":false},"axis":{"orient":"right","values":[0,30,70,100],"title":null,"labelFlush":true,"labelPadding":2}},
 "text":{"field":"t"}}}
]
}
]
}
